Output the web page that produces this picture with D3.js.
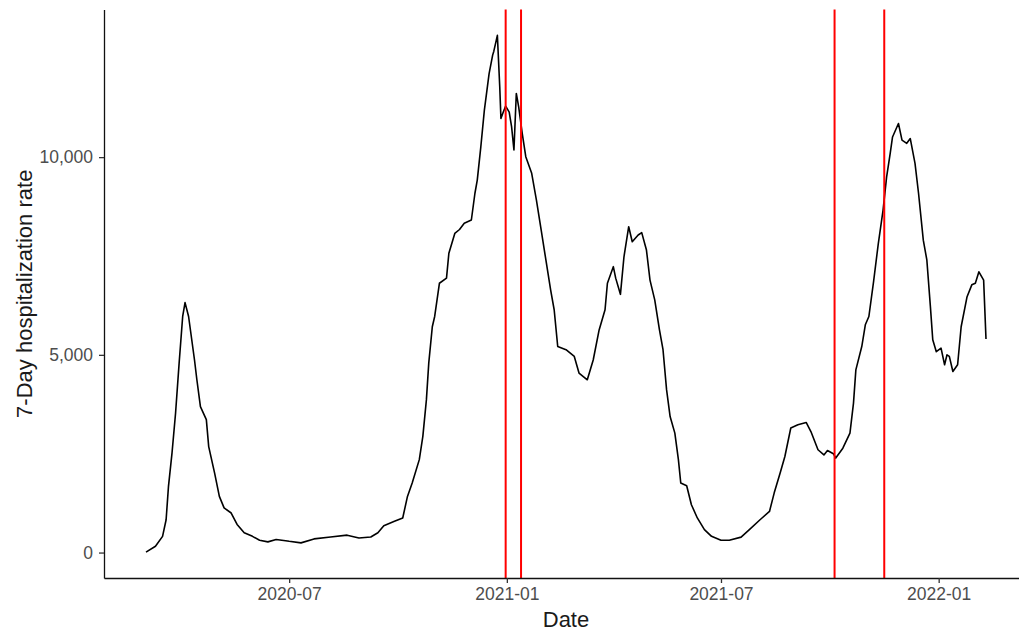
<!DOCTYPE html>
<html>
<head>
<meta charset="utf-8">
<script src="https://cdn.jsdelivr.net/npm/d3@7"></script>
<style>
  body { margin: 0; background: #fff; }
  svg { display: block; font-family: "Liberation Sans", Arial, sans-serif; }
</style>
</head>
<body>
<script>
// 7-day hospitalization rate
var dates = [
  "2020-03-02","2020-03-10","2020-03-16","2020-03-19","2020-03-21","2020-03-24","2020-03-27","2020-03-30",
  "2020-04-02","2020-04-04","2020-04-07","2020-04-12","2020-04-14","2020-04-17","2020-04-22","2020-04-24",
  "2020-04-29","2020-05-03","2020-05-07","2020-05-13","2020-05-18","2020-05-24","2020-05-31","2020-06-06",
  "2020-06-13","2020-06-20","2020-06-28","2020-07-01","2020-07-11","2020-07-22","2020-08-05","2020-08-19",
  "2020-08-29","2020-09-08","2020-09-14","2020-09-19","2020-09-28","2020-10-05","2020-10-09","2020-10-13",
  "2020-10-19","2020-10-22","2020-10-25","2020-10-27","2020-10-30","2020-11-01","2020-11-05","2020-11-11",
  "2020-11-13","2020-11-18","2020-11-22","2020-11-26","2020-12-02","2020-12-05","2020-12-07","2020-12-10",
  "2020-12-13","2020-12-17","2020-12-20","2020-12-21","2020-12-24","2020-12-26","2020-12-27","2020-12-29",
  "2020-12-31","2021-01-03","2021-01-05","2021-01-07","2021-01-09","2021-01-11","2021-01-14","2021-01-17",
  "2021-01-22","2021-01-26","2021-01-30","2021-02-03","2021-02-07","2021-02-10","2021-02-13","2021-02-20",
  "2021-02-27","2021-03-03","2021-03-10","2021-03-15","2021-03-20","2021-03-25","2021-03-27","2021-04-01",
  "2021-04-03","2021-04-07","2021-04-10","2021-04-14","2021-04-17","2021-04-22","2021-04-25","2021-04-29",
  "2021-05-02","2021-05-06","2021-05-10","2021-05-13","2021-05-16","2021-05-19","2021-05-23","2021-05-26",
  "2021-05-28","2021-06-02","2021-06-06","2021-06-11","2021-06-17","2021-06-23","2021-07-01","2021-07-08",
  "2021-07-18","2021-07-25","2021-08-03","2021-08-11","2021-08-15","2021-08-20","2021-08-24","2021-08-29",
  "2021-09-04","2021-09-11","2021-09-15","2021-09-21","2021-09-26","2021-09-29","2021-10-04","2021-10-06",
  "2021-10-12","2021-10-18","2021-10-21","2021-10-23","2021-10-28","2021-10-31","2021-11-03","2021-11-07",
  "2021-11-11","2021-11-15","2021-11-18","2021-11-21","2021-11-23","2021-11-28","2021-12-01","2021-12-05",
  "2021-12-08","2021-12-12","2021-12-15","2021-12-19","2021-12-22","2021-12-25","2021-12-27","2021-12-30",
  "2022-01-03","2022-01-06","2022-01-08","2022-01-10","2022-01-13","2022-01-17","2022-01-20","2022-01-25",
  "2022-01-29","2022-02-01","2022-02-04","2022-02-08","2022-02-10"
];
var rates = [
  10,160,410,830,1675,2520,3530,4790,
  5970,6320,5970,4870,4370,3690,3360,2680,
  2010,1420,1130,1000,710,500,410,310,
  270,330,300,285,245,345,395,440,
  370,395,500,680,790,875,1420,1760,
  2350,2940,3860,4790,5710,5970,6810,6940,
  7570,8070,8170,8330,8410,9080,9420,10260,
  11190,12110,12580,12680,13080,11780,10980,11140,
  11290,11140,10770,10180,11610,11270,10600,10010,
  9590,8910,8160,7400,6640,6140,5210,5130,
  4960,4540,4370,4870,5630,6140,6810,7230,
  6940,6530,7480,8240,7860,8030,8090,7650,
  6890,6390,5630,5130,4120,3440,3020,2350,
  1760,1690,1210,875,580,410,310,310,
  390,580,830,1040,1510,2010,2430,3150,
  3230,3290,3060,2600,2470,2580,2500,2390,
  2640,3020,3780,4620,5210,5760,5970,6860,
  7820,8660,9500,10090,10510,10850,10430,10350,
  10470,9840,9080,7900,7400,6220,5380,5080,
  5170,4750,5000,4960,4580,4750,5710,6470,
  6770,6810,7100,6890,5400
];
// red reference lines
var eventDates = ["2020-12-31","2021-01-13","2021-10-05","2021-11-16"];
var xTickLabels = ["2020-07-01","2021-01-01","2021-07-01","2022-01-01"];
var yTicks = [0, 5000, 10000];

var width = 1019, height = 632;
var pLeft = 104, pRight = 1028, pTop = 9.5, pBottom = 578;

var parse = d3.timeParse("%Y-%m-%d");
var data = dates.map(function(d, i) { return {date: parse(d), value: rates[i]}; });

// ggplot style 5% expansion
var xExt = d3.extent(data, function(d) { return d.date; });
var xPad = (xExt[1] - xExt[0]) * 0.05;
var x = d3.scaleTime()
  .domain([new Date(+xExt[0] - xPad), new Date(+xExt[1] + xPad)])
  .range([pLeft, pRight]);

var yExt = d3.extent(rates);
var yPad = (yExt[1] - yExt[0]) * 0.05;
var y = d3.scaleLinear()
  .domain([yExt[0] - yPad, yExt[1] + yPad])
  .range([pBottom, pTop]);

var svg = d3.select("body").append("svg")
  .attr("width", width)
  .attr("height", height);

var line = d3.line()
  .x(function(d) { return x(d.date); })
  .y(function(d) { return y(d.value); });

svg.append("path")
  .datum(data)
  .attr("fill", "none")
  .attr("stroke", "#000")
  .attr("stroke-width", 1.6)
  .attr("stroke-linejoin", "round")
  .attr("d", line);

svg.selectAll(".vline")
  .data(eventDates)
  .enter().append("line")
  .attr("class", "vline")
  .attr("x1", function(d) { return x(parse(d)); })
  .attr("x2", function(d) { return x(parse(d)); })
  .attr("y1", pTop)
  .attr("y2", pBottom)
  .attr("stroke", "#ff0000")
  .attr("stroke-width", 2);

var xAxis = svg.append("g")
  .attr("transform", "translate(0," + pBottom + ")")
  .call(d3.axisBottom(x)
    .tickValues(xTickLabels.map(parse))
    .tickFormat(d3.timeFormat("%Y-%m"))
    .tickSize(5)
    .tickPadding(5)
    .tickSizeOuter(0));

var yAxis = svg.append("g")
  .attr("transform", "translate(" + pLeft + ",0)")
  .call(d3.axisLeft(y)
    .tickValues(yTicks)
    .tickFormat(d3.format(","))
    .tickSize(5)
    .tickPadding(6)
    .tickSizeOuter(0));

[xAxis, yAxis].forEach(function(g) {
  g.select(".domain").attr("stroke", "#111").attr("stroke-width", 1.3);
  g.selectAll(".tick line").attr("stroke", "#333").attr("stroke-width", 1.3);
  g.selectAll(".tick text")
    .attr("fill", "#4d4d4d")
    .style("font-size", "17.5px")
    .style("font-family", "'Liberation Sans', Arial, sans-serif");
});

svg.append("text")
  .attr("x", (pLeft + pRight) / 2)
  .attr("y", 627)
  .attr("text-anchor", "middle")
  .style("font-size", "22px")
  .attr("fill", "#1a1a1a")
  .text("Date");

svg.append("text")
  .attr("transform", "translate(32," + (pTop + pBottom) / 2 + ") rotate(-90)")
  .attr("text-anchor", "middle")
  .style("font-size", "22px")
  .attr("fill", "#1a1a1a")
  .text("7-Day hospitalization rate");
</script>
</body>
</html>
